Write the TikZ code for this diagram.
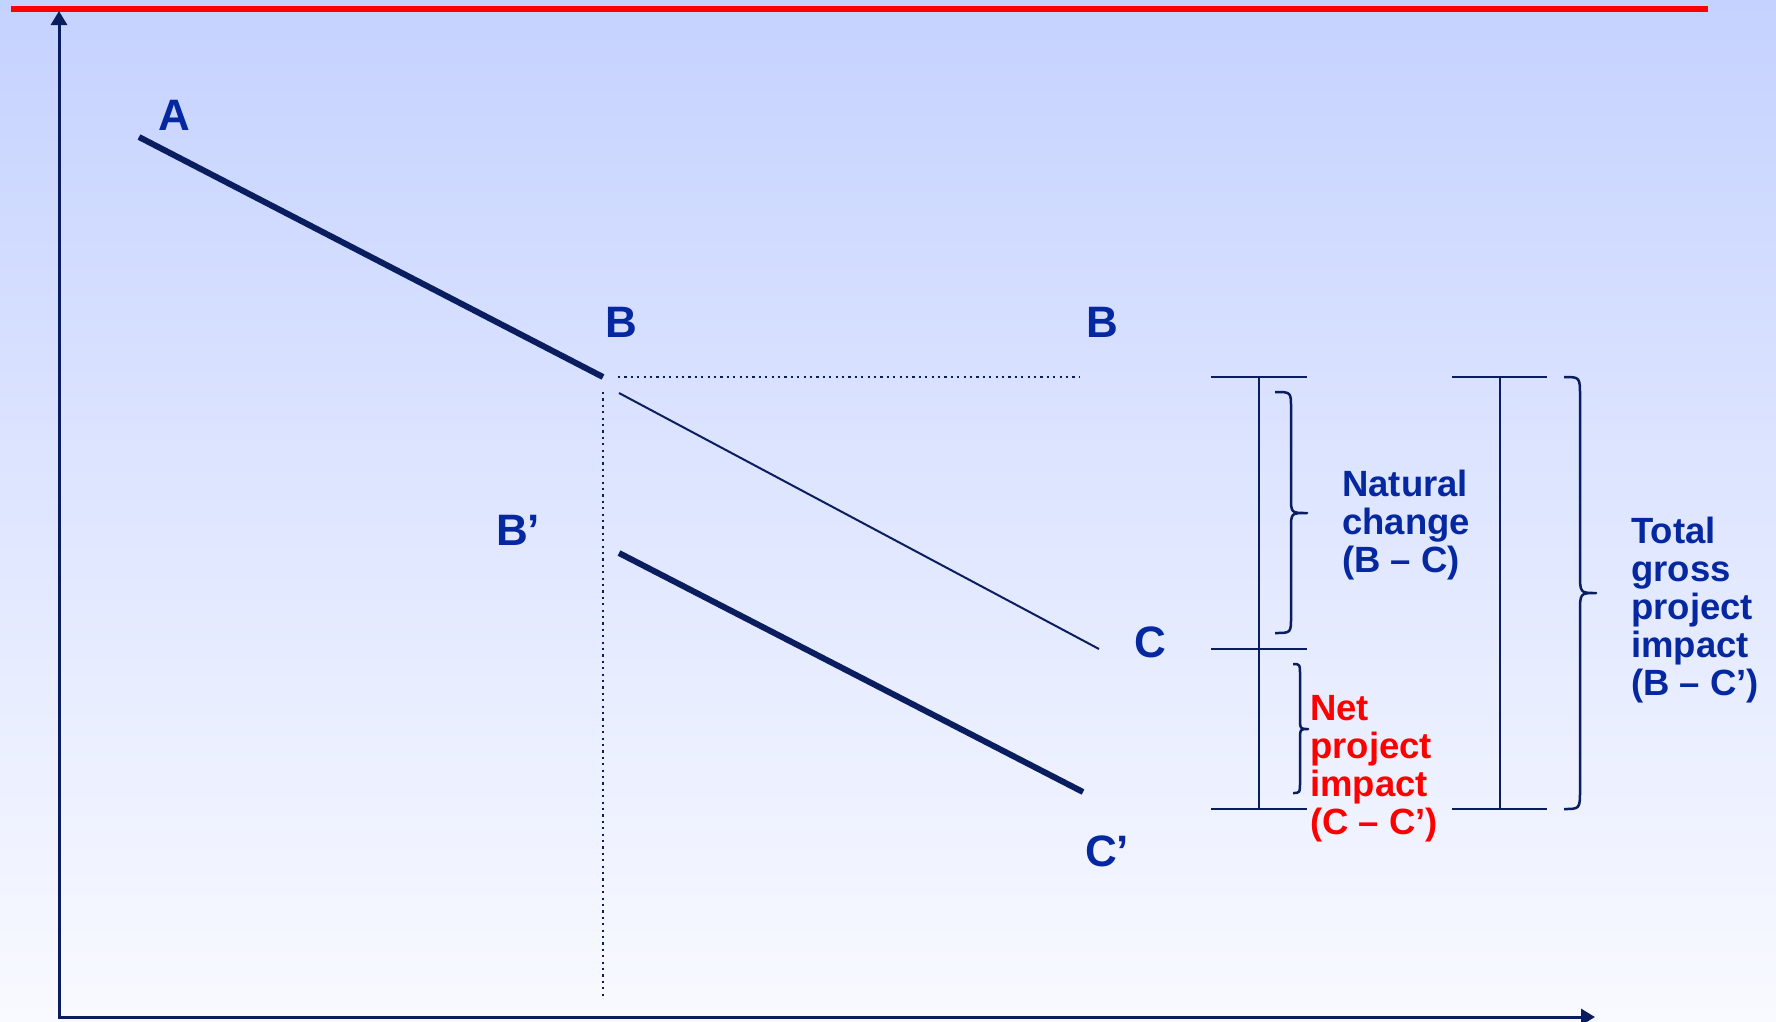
\documentclass[tikz,border=0pt]{standalone}
\usepackage{fontspec}
\setmainfont{Liberation Sans}
\usetikzlibrary{arrows.meta}
\definecolor{navy}{RGB}{10,30,95}
\definecolor{lblue}{RGB}{5,40,160}
\definecolor{lred}{RGB}{255,0,0}
\definecolor{bgtop}{RGB}{197,210,255}
\definecolor{bgbot}{RGB}{249,250,255}
\tikzset{
  lbl/.style={font=\fontsize{44}{44}\selectfont\bfseries, text=lblue, inner sep=0pt},
  blocktxt/.style={font=\fontsize{36.5}{38}\selectfont\bfseries, align=left, anchor=north west, inner sep=0pt},
  thickln/.style={navy, line width=6pt},
  thinln/.style={navy, line width=2pt},
  dotln/.style={navy, line width=2.2pt, dash pattern=on 2.2pt off 4.2pt},
  barln/.style={navy, line width=2.5pt},
  bracel/.style={navy, line width=2.5pt, line join=round}
}
\begin{document}
\begin{tikzpicture}[x=1pt,y=-1pt]
\useasboundingbox (0,0) rectangle (1776,1021);
\shade[top color=bgtop, bottom color=bgbot] (0,0) rectangle (1776,1021);
% red rule
\draw[lred, line width=6pt] (11,9) -- (1708,9);
% axes
\coordinate (ytop) at (59,11);
\coordinate (orig) at (59,1017);
\coordinate (xend) at (1595,1017);
\draw[navy, line width=3pt, {Triangle[width=16pt,length=14pt]}-{Triangle[width=16pt,length=14pt]}] (ytop) -- (orig) -- (xend);
% curve points
\coordinate (pA) at (139,137);
\coordinate (pB) at (603,377);
\coordinate (pBs) at (619,393);
\coordinate (pC) at (1099,649);
\coordinate (pBp) at (619,553);
\coordinate (pCp) at (1083,792);
\coordinate (dh1) at (618,377);
\coordinate (dh2) at (1079,377);
\coordinate (dv1) at (603,392);
\coordinate (dv2) at (603,996);
\draw[thickln] (pA) -- (pB);
\draw[thinln] (pBs) -- (pC);
\draw[thickln] (pBp) -- (pCp);
\draw[dotln] (dh1) -- (dh2);
\draw[dotln] (dv1) -- (dv2);
% labels
\node[lbl] (lA) at (174,115) {A};
\node[lbl] (lB1) at (621,322) {B};
\node[lbl] (lB2) at (1102,322) {B};
\node[lbl] (lBp) at (518,530) {B’};
\node[lbl] (lC) at (1150,642) {C};
\node[lbl] (lCp) at (1107,851) {C’};
% left I-bar with middle tick
\coordinate (t1a) at (1211,377); \coordinate (t1b) at (1307,377);
\coordinate (t2a) at (1211,649); \coordinate (t2b) at (1307,649);
\coordinate (t3a) at (1211,809); \coordinate (t3b) at (1307,809);
\coordinate (v1a) at (1259,377); \coordinate (v1b) at (1259,809);
\draw[barln] (t1a) -- (t1b);
\draw[barln] (t2a) -- (t2b);
\draw[barln] (t3a) -- (t3b);
\draw[barln] (v1a) -- (v1b);
% right I-bar
\coordinate (r1a) at (1452,377); \coordinate (r1b) at (1547,377);
\coordinate (r2a) at (1452,809); \coordinate (r2b) at (1547,809);
\coordinate (v2a) at (1500,377); \coordinate (v2b) at (1500,809);
\draw[barln] (r1a) -- (r1b);
\draw[barln] (r2a) -- (r2b);
\draw[barln] (v2a) -- (v2b);
% braces
\draw[bracel] (1275,392) .. controls (1291,392) .. (1291,408) -- (1291,497)
  .. controls (1291,513) .. (1307,513) .. controls (1291,513) .. (1291,529)
  -- (1291,617) .. controls (1291,633) .. (1275,633);
\draw[bracel] (1293,664) .. controls (1300,664) .. (1300,676) -- (1300,717)
  .. controls (1300,729) .. (1308,729) .. controls (1300,729) .. (1300,741)
  -- (1300,781) .. controls (1300,793) .. (1293,793);
\draw[bracel] (1564,377) .. controls (1580,377) .. (1580,397) -- (1580,573)
  .. controls (1580,593) .. (1596,593) .. controls (1580,593) .. (1580,613)
  -- (1580,789) .. controls (1580,809) .. (1564,809);
% texts
\node[blocktxt, text=lblue] (tnat) at (1342,470) {Natural\\change\\(B – C)};
\node[blocktxt, text=lred] (tnet) at (1310,695) {Net\\project\\impact\\(C – C’)};
\node[blocktxt, text=lblue] (ttot) at (1631,517) {Total\\gross\\project\\impact\\(B – C’)};
\end{tikzpicture}
\end{document}
